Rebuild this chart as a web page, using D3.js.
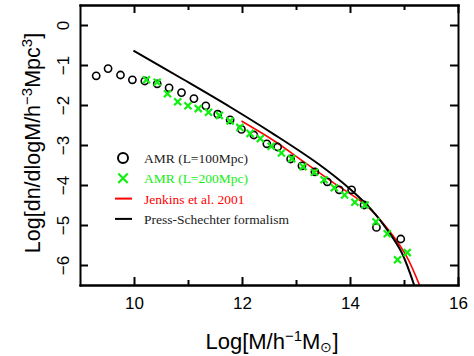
<!DOCTYPE html>
<html>
<head>
<meta charset="utf-8">
<script src="https://cdn.jsdelivr.net/npm/d3@7"></script>
<style>
body { margin: 0; background: #fff; }
.axis path, .axis line { stroke: #000; stroke-width: 2; }
.axis text { font-family: "Liberation Sans", Arial, sans-serif; font-size: 17px; fill: #000; }
</style>
</head>
<body>
<div id="chart"></div>
<script>
var w = 474;
var h = 356;

// AMR (L=100Mpc) circles
var amr100Mass = [9.30, 9.52, 9.75, 9.97, 10.20, 10.43, 10.65, 10.88, 11.11, 11.33, 11.55, 11.78, 11.99, 12.22, 12.46, 12.66, 12.90, 13.11, 13.35, 13.58, 13.80, 14.03, 14.26, 14.49, 14.94];
var amr100Val  = [-1.27, -1.09, -1.25, -1.37, -1.40, -1.47, -1.57, -1.69, -1.84, -2.02, -2.23, -2.37, -2.61, -2.75, -2.97, -3.05, -3.35, -3.52, -3.67, -3.92, -4.12, -4.12, -4.50, -5.06, -5.35];

// AMR (L=200Mpc) crosses
var amr200Mass = [10.23, 10.43, 10.62, 10.81, 11.00, 11.19, 11.38, 11.58, 11.78, 11.96, 12.15, 12.34, 12.54, 12.73, 12.92, 13.13, 13.34, 13.52, 13.71, 13.90, 14.09, 14.28, 14.48, 14.69, 14.88, 15.06];
var amr200Val  = [-1.37, -1.43, -1.72, -1.92, -2.02, -2.09, -2.18, -2.26, -2.40, -2.56, -2.71, -2.84, -3.03, -3.20, -3.34, -3.54, -3.68, -3.87, -4.07, -4.25, -4.43, -4.50, -4.92, -5.22, -5.87, -5.69];

// Jenkins et al. 2001
var jenkinsMass = [11.99, 12.60, 13.10, 13.69, 14.31, 14.74, 15.05, 15.30];
var jenkinsVal  = [-2.40, -2.90, -3.38, -3.94, -4.52, -5.17, -5.79, -6.55];

// Press-Schechter
var psMass = [9.99, 10.90, 11.78, 12.60, 13.41, 14.00, 14.40, 14.70, 14.95, 15.20];
var psVal  = [-0.64, -1.35, -2.05, -2.74, -3.47, -4.10, -4.62, -5.14, -5.67, -6.55];

var xTicks = [10, 12, 14, 16];
var xMinor = [11, 13, 15];
var yTicks = [0, -1, -2, -3, -4, -5, -6];

var legendLabels = ["AMR (L=100Mpc)", "AMR (L=200Mpc)", "Jenkins et al. 2001", "Press-Schechter formalism"];
var legendColors = ["#222", "#11ee11", "#ff0000", "#222"];

var green = "#11ee11";

var svg = d3.select("#chart")
            .append("svg")
            .attr("width", w)
            .attr("height", h);

//Create scale functions
var xScale = d3.scaleLinear()
               .domain([9, 16])
               .range([80, 458]);

var yScale = d3.scaleLinear()
               .domain([-6.5, 0.5])
               .range([285, 5]);

var plot = svg.append("g");

//Clip so the curves stop at the frame
svg.append("clipPath")
   .attr("id", "clip")
   .append("rect")
   .attr("x", 80).attr("y", 5)
   .attr("width", 378).attr("height", 280);

var line = d3.line()
             .x(function(d) { return xScale(d[0]); })
             .y(function(d) { return yScale(d[1]); })
             .curve(d3.curveCatmullRom);

var psData = psMass.map(function(m, i) { return [m, psVal[i]]; });
var jenkinsData = jenkinsMass.map(function(m, i) { return [m, jenkinsVal[i]]; });

plot.append("path")
    .datum(jenkinsData)
    .attr("clip-path", "url(#clip)")
    .attr("fill", "none")
    .attr("stroke", "#ff0000")
    .attr("stroke-width", 1.6)
    .attr("d", line);

plot.append("path")
    .datum(psData)
    .attr("clip-path", "url(#clip)")
    .attr("fill", "none")
    .attr("stroke", "#000")
    .attr("stroke-width", 2)
    .attr("d", line);

//Create circles
plot.selectAll("circle.amr100")
    .data(amr100Mass)
    .enter()
    .append("circle")
    .attr("class", "amr100")
    .attr("cx", function(d) { return xScale(d); })
    .attr("cy", function(d, i) { return yScale(amr100Val[i]); })
    .attr("r", 3.6)
    .attr("fill", "none")
    .attr("stroke", "#000")
    .attr("stroke-width", 1.6);

//Create crosses
var cross = d3.symbol().type(d3.symbolX).size(34);

plot.selectAll("path.amr200")
    .data(amr200Mass)
    .enter()
    .append("path")
    .attr("class", "amr200")
    .attr("transform", function(d, i) {
        return "translate(" + xScale(d) + "," + yScale(amr200Val[i]) + ")";
    })
    .attr("d", cross)
    .attr("fill", "none")
    .attr("stroke", green)
    .attr("stroke-width", 2.2);

//Axes, ticks point inward on all four sides
var xAxis = d3.axisBottom(xScale).tickValues(xTicks).tickFormat(d3.format("d")).tickSizeInner(-8).tickSizeOuter(0).tickPadding(12);
var xAxisTop = d3.axisTop(xScale).tickValues(xTicks).tickFormat("").tickSizeInner(-8).tickSizeOuter(0);
var yAxis = d3.axisLeft(yScale).tickValues(yTicks).tickFormat(d3.format("d")).tickSizeInner(-8).tickSizeOuter(0).tickPadding(0);
var yAxisRight = d3.axisRight(yScale).tickValues(yTicks).tickFormat("").tickSizeInner(-8).tickSizeOuter(0);

svg.append("g")
   .attr("class", "x axis")
   .attr("transform", "translate(0,285)")
   .call(xAxis);

svg.append("g")
   .attr("class", "x axis minor")
   .attr("transform", "translate(0,285)")
   .call(d3.axisBottom(xScale).tickValues(xMinor).tickFormat("").tickSizeInner(-5).tickSizeOuter(0));

svg.append("g")
   .attr("class", "x axis top")
   .attr("transform", "translate(0,5)")
   .call(xAxisTop);

svg.append("g")
   .attr("class", "x axis top minor")
   .attr("transform", "translate(0,5)")
   .call(d3.axisTop(xScale).tickValues(xMinor).tickFormat("").tickSizeInner(-5).tickSizeOuter(0));

var yG = svg.append("g")
   .attr("class", "y axis")
   .attr("transform", "translate(80,0)")
   .call(yAxis);

//Rotate the y tick labels
yG.selectAll(".tick text")
  .attr("x", 0)
  .attr("dy", 0)
  .attr("text-anchor", "middle")
  .attr("transform", "translate(-11,0) rotate(-90)");

svg.append("g")
   .attr("class", "y axis right")
   .attr("transform", "translate(458,0)")
   .call(yAxisRight);

svg.selectAll(".axis path.domain").attr("stroke-linecap", "square");

//Axis titles
var xTitle = svg.append("text")
   .attr("x", 272)
   .attr("y", 349)
   .attr("text-anchor", "middle")
   .style("font-family", "Liberation Sans, Arial, sans-serif")
   .style("font-size", "22px");
xTitle.append("tspan").text("Log[M/h");
xTitle.append("tspan").attr("dy", -8).style("font-size", "15px").text("\u22121");
xTitle.append("tspan").attr("dy", 8).text("M");
xTitle.append("tspan").attr("dy", 3).style("font-size", "14px").text("\u2299");
xTitle.append("tspan").attr("dy", -3).text("]");

var yTitle = svg.append("text")
   .attr("transform", "translate(40,143) rotate(-90)")
   .attr("text-anchor", "middle")
   .style("font-family", "Liberation Sans, Arial, sans-serif")
   .style("font-size", "21.5px");
yTitle.append("tspan").text("Log[dn/dlogM/h");
yTitle.append("tspan").attr("dy", -8).style("font-size", "15px").text("\u22123");
yTitle.append("tspan").attr("dy", 8).text("Mpc");
yTitle.append("tspan").attr("dy", -8).style("font-size", "15px").text("3");
yTitle.append("tspan").attr("dy", 8).text("]");

//Legend
var legend = svg.selectAll("g.legend")
   .data(legendLabels)
   .enter()
   .append("g")
   .attr("class", "legend")
   .attr("transform", function(d, i) { return "translate(123," + (158 + i * 20.3) + ")"; });

legend.filter(function(d, i) { return i == 0; })
   .append("circle")
   .attr("r", 5)
   .attr("fill", "none")
   .attr("stroke", "#000")
   .attr("stroke-width", 2);

legend.filter(function(d, i) { return i == 1; })
   .append("path")
   .attr("d", d3.symbol().type(d3.symbolX).size(60))
   .attr("fill", "none")
   .attr("stroke", green)
   .attr("stroke-width", 2.2);

legend.filter(function(d, i) { return i >= 2; })
   .append("line")
   .attr("x1", -8).attr("x2", 9)
   .attr("stroke", function(d, i) { return i == 0 ? "#ff0000" : "#000"; })
   .attr("stroke-width", 2);

legend.append("text")
   .attr("x", 21)
   .attr("y", 5)
   .style("font-family", "Liberation Serif, Times New Roman, serif")
   .style("font-size", "13.5px")
   .attr("fill", function(d, i) { return legendColors[i]; })
   .text(function(d) { return d; });
</script>
</body>
</html>
